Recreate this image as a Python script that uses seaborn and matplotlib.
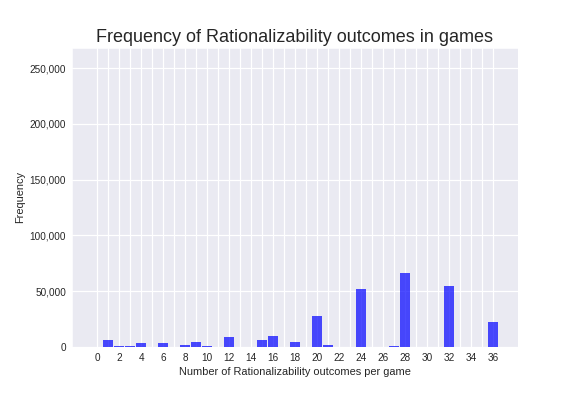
import matplotlib
matplotlib.use("Agg")
import matplotlib.pyplot as plt
import seaborn as sns
import numpy as np

outcomes = [1, 2, 3, 4, 6, 8, 9, 10, 12, 15, 16, 18, 20, 21, 24, 27, 28, 32, 36]
counts = [6000, 900, 900, 3300, 3300, 1500, 4200, 900, 8700, 6000, 9600, 4200,
          27500, 1500, 51800, 900, 66200, 54500, 22200]
tick_values = list(range(0, 37))
tick_labels = [str(v) if v % 2 == 0 else "" for v in tick_values]

sns.set_style("darkgrid")
plt.rcParams['font.family'] = ['Liberation Sans', 'DejaVu Sans']

fig = plt.figure(figsize=(8, 5.5), dpi=72)
ax = fig.add_axes([0.125, 0.1245, 0.774, 0.755])

ax.bar(outcomes, counts, width=0.88, color="blue", alpha=0.7, linewidth=0)
ax.set_xticks(tick_values)
ax.set_xticklabels(tick_labels, fontsize=10)
ax.tick_params(axis="x", length=0, pad=6)
ax.tick_params(axis="y", length=0, labelsize=10, pad=6)
ax.grid(True, color="white", linewidth=1.2)
ax.set_xlim(-2.3, 38.25)
ax.set_ylim(0, 268500)
ax.set_yticks([0, 50000, 100000, 150000, 200000, 250000])
ax.yaxis.set_major_formatter(matplotlib.ticker.FuncFormatter(lambda v, p: f"{int(v):,}"))
ax.set_xlabel("Number of Rationalizability outcomes per game", fontsize=11)
ax.set_ylabel("Frequency", fontsize=11)
ax.set_title("Frequency of Rationalizability outcomes in games", fontsize=18)

fig.savefig("out.png", dpi=72)
